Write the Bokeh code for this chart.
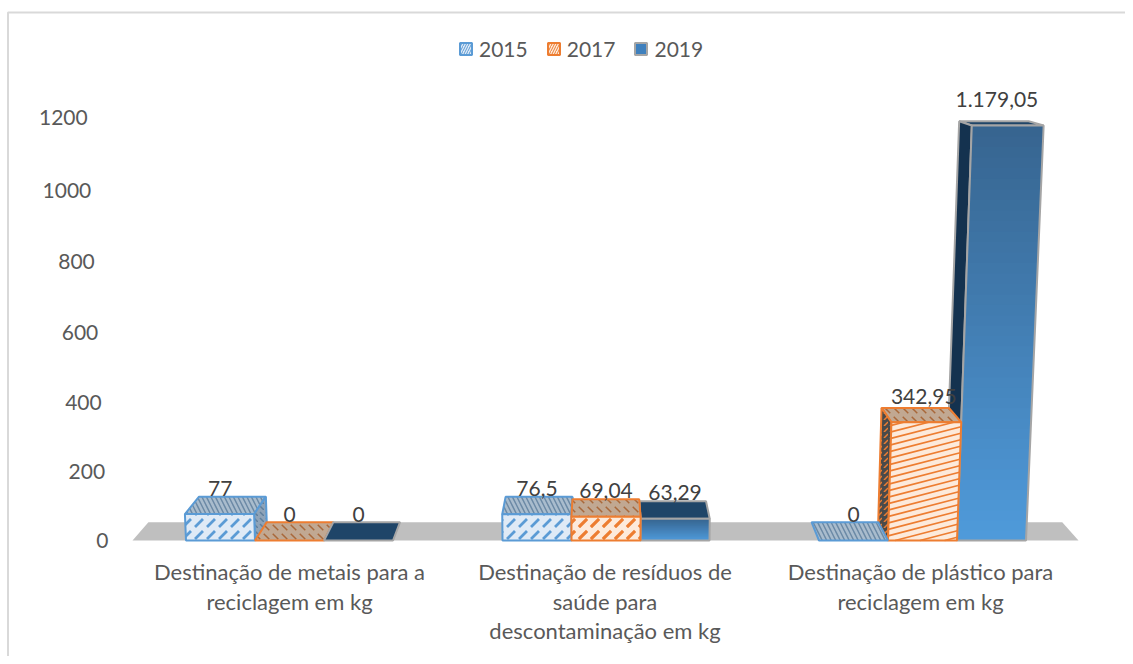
from bokeh.plotting import figure
from bokeh.models import Range1d, ColumnDataSource, Legend, LegendItem
from bokeh.core.properties import value
from bokeh.embed import file_html
from bokeh.resources import INLINE

series = ["2015", "2017", "2019"]
values_2015 = [77, 76.5, 0]
values_2017 = [0, 69.04, 342.95]
values_2019 = [0, 63.29, 1179.05]
labels_2015 = ["77", "76,5", "0"]
labels_2017 = ["0", "69,04", "342,95"]
labels_2019 = ["0", "63,29", "1.179,05"]
y_ticks = [0, 200, 400, 600, 800, 1000, 1200]
categories = [
    ["Destinação de metais para a", "reciclagem em kg"],
    ["Destinação de resíduos de", "saúde para", "descontaminação em kg"],
    ["Destinação de plástico para", "reciclagem em kg"],
]

W, H = 1125, 656
GX0, GP = 289.0, 316.5      # pixel of group 0, pixels per group
Y0, YS = 540.0, 0.342       # pixel of value 0, pixels per unit
def X(px): return (px - GX0) / GP
def Y(py): return (Y0 - py) / YS
def HT(v): return v / (1 - 2.4e-5 * v)   # slight perspective growth of the value axis
VX, VY = X(600), Y0 / YS                 # vanishing point
T = 0.034
K = 1e-4 * YS
BW = 69.0 / GP

def lean(x, Yv): return x + K * (x - VX) * Yv
def front(x, v):
    Yv = HT(v)
    return (lean(x, Yv), Yv)
def back(pt):
    return (pt[0] + T * (VX - pt[0]), pt[1] + T * (VY - pt[1]))

p = figure(width=W, height=H, output_backend="svg", toolbar_location=None,
           x_range=Range1d(X(0), X(W)),
           y_range=Range1d(Y(H), Y(0)),
           min_border=0, outline_line_color=None, background_fill_color="white")
p.axis.visible = False
p.grid.visible = False

# chart area edge: only its top and left sides fall inside the picture
p.line([X(7.5), X(7.5), X(W)], [Y(H), Y(12), Y(12)], line_color="#d9d9d9", line_width=2)

# floor
fl, fr = X(132), X(1078)
a, b = (fl, 0), (fr, 0)
p.patch([a[0], b[0], back(b)[0], back(a)[0]], [0, 0, back(b)[1], back(a)[1]],
        fill_color="#bfbfbf", line_color=None)

style = {
    0: dict(line="#5b9bd5", front=("#dfeaf6", "#5b9bd5", "right_diagonal_dash", 12, 2.8),
            top=("#a9bccd", "#6c8aa6", "left_diagonal_line", 9, 1.5),
            side=("#8ea3b8", "#5f7f9c", "left_diagonal_dash", 6, 1.5)),
    1: dict(line="#ed7d31", front=("#fdeadb", "#ed7d31", "right_diagonal_dash", 12, 3.2),
            top=("#c1a892", "#a8683a", "left_diagonal_dash", 9, 1.5),
            side=("#4a4a4a", "#ed7d31", "right_diagonal_dash", 6, 1.5)),
    2: dict(line="#a5a5a5", front=None,
            top=("#1f4568", "#1f4568", "blank", 9, 1),
            side=("#14324f", "#14324f", "blank", 9, 1)),
}

F = dict(xs=[], ys=[], fill=[], hatch=[], pat=[], hs=[], hw=[], line=[], lw=[])
def add(pts, fill, hatch, pat, hs, hw, line, lw):
    F["xs"].append([q[0] for q in pts]); F["ys"].append([q[1] for q in pts])
    F["fill"].append(fill); F["hatch"].append(hatch); F["pat"].append(pat)
    F["hs"].append(hs); F["hw"].append(hw)
    F["line"].append(line); F["lw"].append(lw)

def mix(c1, c2, t):
    a1 = [int(c1[i:i+2], 16) for i in (1, 3, 5)]
    a2 = [int(c2[i:i+2], 16) for i in (1, 3, 5)]
    return "#%02x%02x%02x" % tuple(round(u + (w - u) * t) for u, w in zip(a1, a2))

all_values = [values_2015, values_2017, values_2019]
bars = []
for g in range(3):
    for s in range(3):
        x0 = g + (s - 1.5) * BW
        bars.append((abs(x0 + BW / 2 - VX), g, s, x0, all_values[s][g]))
bars.sort(reverse=True)   # outer bars first: their inner sides sit behind their neighbours

stripes_x, stripes_y = [], []
for _, g, s, x0, v in bars:
    st = style[s]
    x1 = x0 + BW
    FL0, FR0, FLt, FRt = front(x0, 0), front(x1, 0), front(x0, v), front(x1, v)
    BL0, BR0, BLt, BRt = back(FL0), back(FR0), back(FLt), back(FRt)
    add([FLt, FRt, BRt, BLt], *st["top"], st["line"], 2)
    if v > 0:
        if x1 < VX:
            add([FR0, FRt, BRt, BR0], *st["side"], st["line"], 2)
        if x0 > VX:
            add([FL0, FLt, BLt, BL0], *st["side"], st["line"], 2)
        if st["front"]:
            fr_style = st["front"]
            tall = s == 1 and v > 200
            if tall:   # the tall face stretches its stripes to a shallow slope
                fr_style = (fr_style[0], fr_style[1], "blank", 8, 2)
            add([FL0, FR0, FRt, FLt], *fr_style, st["line"], 2)
            if tall:
                rise, step = 53.0, 19.0
                top = HT(v)
                yl = -rise + step / 2
                while yl < top:
                    yr = yl + rise
                    u0 = max(0.0, -yl / rise)
                    u1 = min(1.0, (top - yl) / rise)
                    seg = [(x0 + BW * u, yl + rise * u) for u in (u0, u1)]
                    stripes_x.append([lean(q[0], q[1]) for q in seg])
                    stripes_y.append([q[1] for q in seg])
                    yl += step
        else:
            n = 40
            for i in range(n):
                vb = v * i / n
                add([front(x0, vb), front(x1, vb), FRt, FLt],
                    mix("#4f9ada", "#376590", i / (n - 1)), "#000000", "blank", 9, 1, None, 0)
            add([FL0, FR0, FRt, FLt], None, "#000000", "blank", 9, 1, st["line"], 2)

p.patches("xs", "ys", source=ColumnDataSource(F), fill_color="fill", line_color="line",
          line_width="lw", hatch_color="hatch", hatch_pattern="pat", hatch_scale="hs", hatch_weight="hw")
p.multi_line(stripes_x, stripes_y, line_color="#ed7d31", line_width=1.7)

FONT = value("Lato")
TS = "21px"

# value labels
lab = dict(x=[], y=[], t=[])
for s, (vals, txt) in enumerate(zip(all_values, [labels_2015, labels_2017, labels_2019])):
    for g in range(3):
        xc = g + (s - 1) * BW
        lab["x"].append(xc + (lean(xc, HT(vals[g])) - xc) * 0.33)
        lab["y"].append(HT(vals[g])); lab["t"].append(txt[g])
p.text("x", "y", text="t", source=ColumnDataSource(lab), text_font=FONT, text_font_size=TS,
       text_color="#404040", text_align="center", text_baseline="middle", y_offset=-26)

# value axis labels, following the leaning wall
tick = dict(x=[lean(X(108), HT(v)) for v in y_ticks], y=[HT(v) for v in y_ticks],
            t=[str(v) for v in y_ticks])
p.text("x", "y", text="t", source=ColumnDataSource(tick), text_font=FONT, text_font_size=TS,
       text_color="#595959", text_align="right", text_baseline="middle")

# category labels
cat = dict(x=[], y=[], t=[], xo=[], yo=[])
shift = [0, -1, -2]
for g, lines in enumerate(categories):
    for i, t in enumerate(lines):
        cat["x"].append(g); cat["y"].append(0); cat["t"].append(t)
        cat["xo"].append(shift[g]); cat["yo"].append(31 + 29.5 * i)
p.text("x", "y", text="t", x_offset="xo", y_offset="yo", source=ColumnDataSource(cat),
       text_font=FONT, text_font_size="22px", text_color="#595959",
       text_align="center", text_baseline="middle")

# legend
items = []
legend_style = [
    dict(fill_color="#dfeaf6", line_color="#5b9bd5", hatch_color="#5b9bd5", hatch_pattern="right_diagonal_line", hatch_scale=5),
    dict(fill_color="#fdeadb", line_color="#ed7d31", hatch_color="#ed7d31", hatch_pattern="right_diagonal_line", hatch_scale=5),
    dict(fill_color="#3f80bd", line_color="#a5a5a5"),
]
for name, kw in zip(series, legend_style):
    r = p.patches(xs=[[]], ys=[[]], line_width=2, **kw)
    items.append(LegendItem(label=name, renderers=[r]))
leg = Legend(items=items, orientation="horizontal", location=(458, 595), padding=0, margin=0,
             spacing=18, glyph_width=15, glyph_height=15, label_standoff=6,
             border_line_color=None, background_fill_alpha=0,
             label_text_font="Lato", label_text_font_size=TS, label_text_color="#595959")
p.add_layout(leg, "center")

open("out.html", "w").write(file_html(p, INLINE))
